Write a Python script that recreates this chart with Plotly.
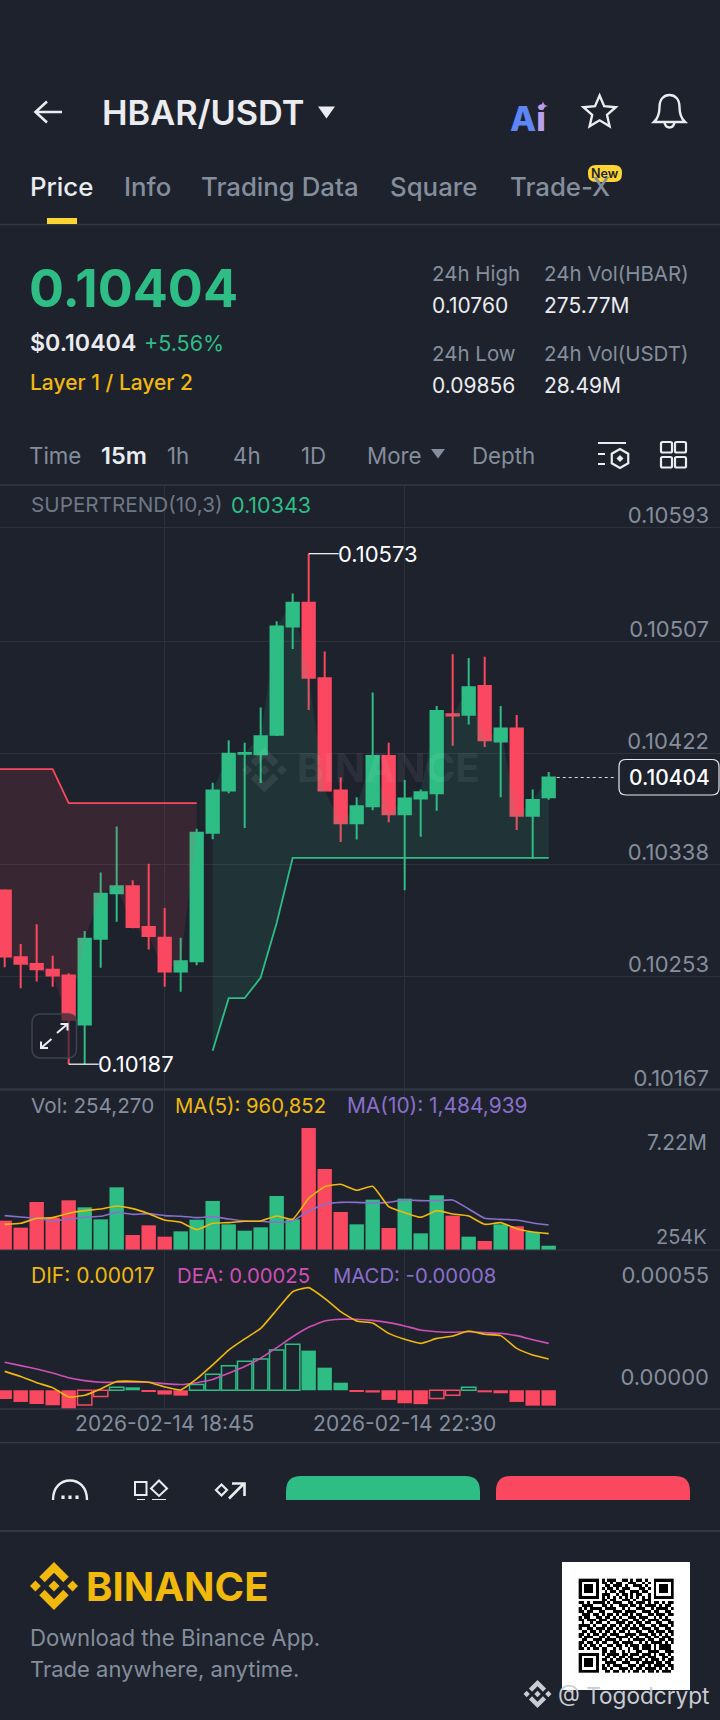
import math

import plotly.graph_objects as go

# 15 minute candles
times = [
    "2026-02-14 16:15", "2026-02-14 16:30", "2026-02-14 16:45", "2026-02-14 17:00", "2026-02-14 17:15",
    "2026-02-14 17:30", "2026-02-14 17:45", "2026-02-14 18:00", "2026-02-14 18:15", "2026-02-14 18:30",
    "2026-02-14 18:45", "2026-02-14 19:00", "2026-02-14 19:15", "2026-02-14 19:30", "2026-02-14 19:45",
    "2026-02-14 20:00", "2026-02-14 20:15", "2026-02-14 20:30", "2026-02-14 20:45", "2026-02-14 21:00",
    "2026-02-14 21:15", "2026-02-14 21:30", "2026-02-14 21:45", "2026-02-14 22:00", "2026-02-14 22:15",
    "2026-02-14 22:30", "2026-02-14 22:45", "2026-02-14 23:00", "2026-02-14 23:15", "2026-02-14 23:30",
    "2026-02-14 23:45", "2026-02-15 00:00", "2026-02-15 00:15", "2026-02-15 00:30", "2026-02-15 00:45",
]
opens = [
    0.103181, 0.102675, 0.102624, 0.102582, 0.102537, 0.102166, 0.102815, 0.103160, 0.103214, 0.102905,
    0.102824, 0.102567, 0.102645, 0.103618, 0.103938, 0.104217, 0.104214, 0.104361, 0.105181, 0.105361,
    0.104789, 0.103938, 0.103690, 0.103819, 0.104199, 0.103759, 0.103878, 0.103917, 0.104516, 0.104513,
    0.104729, 0.104310, 0.104408, 0.103747, 0.103887,
]
highs = [
    0.103190, 0.102776, 0.102926, 0.102687, 0.102555, 0.102875, 0.103318, 0.103666, 0.103259, 0.103384,
    0.103049, 0.102824, 0.103648, 0.103998, 0.104319, 0.104301, 0.104567, 0.105220, 0.105430, 0.105732,
    0.104992, 0.104037, 0.103887, 0.104681, 0.104301, 0.104019, 0.103947, 0.104579, 0.104971, 0.104942,
    0.104951, 0.104579, 0.104510, 0.103947, 0.104079,
]
lows = [
    0.102600, 0.102441, 0.102492, 0.102453, 0.101866, 0.101866, 0.102597, 0.102944, 0.102896, 0.102735,
    0.102453, 0.102414, 0.102615, 0.103570, 0.103917, 0.103654, 0.103995, 0.104352, 0.105010, 0.104549,
    0.103938, 0.103549, 0.103567, 0.103789, 0.103699, 0.103184, 0.103588, 0.103786, 0.104277, 0.104438,
    0.104268, 0.103887, 0.103639, 0.103420, 0.103869,
]
closes = [
    0.102681, 0.102627, 0.102585, 0.102537, 0.102202, 0.102815, 0.103157, 0.103214, 0.102905, 0.102836,
    0.102567, 0.102645, 0.103618, 0.103938, 0.104217, 0.104223, 0.104349, 0.105181, 0.105361, 0.104792,
    0.103938, 0.103690, 0.103819, 0.104199, 0.103759, 0.103878, 0.103926, 0.104540, 0.104507, 0.104720,
    0.104319, 0.104408, 0.103747, 0.103866, 0.104037,
]
# the red band starts one candle left of the visible window
red_band_times = ["2026-02-14 16:00"] + times[:13]
red_band = [
    0.104100, 0.104100, 0.104100, 0.104100, 0.104100, 0.103843, 0.103843,
    0.103843, 0.103843, 0.103843, 0.103843, 0.103843, 0.103843, 0.103843,
]
red_band_edge = [0.103181] + closes[:13]
green_band = [
    0.101968, 0.102366, 0.102366, 0.102522, 0.102935, 0.103429, 0.103429, 0.103429, 0.103429, 0.103429, 0.103429,
    0.103429, 0.103429, 0.103429, 0.103429, 0.103429, 0.103429, 0.103429, 0.103429, 0.103429, 0.103429, 0.103429,
]

# volume in millions
volume = [
    1.736, 1.322, 2.841, 1.914, 2.940, 2.525, 1.815, 3.709, 0.888, 1.460, 0.789, 1.105, 1.795, 2.900, 1.519,
    1.144, 1.342, 3.196, 1.815, 7.220, 4.794, 2.249, 1.519, 2.979, 1.302, 3.038, 0.987, 3.236, 2.032, 0.789,
    0.533, 1.519, 1.401, 1.065, 0.254,
]
vol_ma5 = [
    1.519, 1.578, 1.874, 1.914, 2.170, 2.328, 2.427, 2.604, 2.447, 2.151, 1.776, 1.638, 1.204, 1.578, 1.618,
    1.697, 1.717, 2.012, 1.815, 3.058, 3.749, 3.887, 3.532, 3.768, 2.565, 2.210, 1.934, 2.328, 2.131, 2.012,
    1.519, 1.618, 1.263, 1.065, 0.967,
]
vol_ma10 = [
    2.032, 1.953, 1.874, 1.717, 1.815, 1.934, 1.993, 2.229, 2.111, 2.151, 2.032, 1.993, 1.914, 1.973, 1.835,
    1.717, 1.697, 1.638, 1.717, 2.308, 2.703, 2.821, 2.821, 2.782, 2.821, 2.960, 2.920, 2.920, 2.960, 2.427,
    1.874, 1.815, 1.776, 1.598, 1.480,
]

dif = [
    0.000102, 0.000074, 0.000041, 0.000014, -0.000036, -0.000027, 0.000007, 0.000047, 0.000049, 0.000043,
    0.000018, 0.000002, 0.000061, 0.000137, 0.000217, 0.000277, 0.000334, 0.000433, 0.000532, 0.000554,
    0.000496, 0.000424, 0.000374, 0.000363, 0.000307, 0.000275, 0.000253, 0.000280, 0.000293, 0.000320,
    0.000302, 0.000295, 0.000226, 0.000191, 0.000169,
]
dea = [
    0.000151, 0.000133, 0.000115, 0.000093, 0.000068, 0.000052, 0.000043, 0.000043, 0.000045, 0.000043,
    0.000036, 0.000031, 0.000041, 0.000058, 0.000092, 0.000128, 0.000173, 0.000230, 0.000289, 0.000340,
    0.000374, 0.000383, 0.000383, 0.000377, 0.000365, 0.000347, 0.000325, 0.000316, 0.000313, 0.000316,
    0.000311, 0.000307, 0.000295, 0.000273, 0.000253,
]
macd = [
    -0.000047, -0.000063, -0.000074, -0.000081, -0.000104, -0.000079, -0.000034, 0.000016, 0.000016, -0.000009,
    -0.000023, -0.000029, 0.000031, 0.000086, 0.000133, 0.000156, 0.000169, 0.000217, 0.000248, 0.000214,
    0.000122, 0.000041, -0.000009, -0.000012, -0.000052, -0.000070, -0.000075, -0.000045, -0.000027, 0.000016,
    -0.000011, -0.000016, -0.000063, -0.000083, -0.000083,
]

time_ticks = ["2026-02-14 18:45", "2026-02-14 22:30"]
price_ticks = [0.10593, 0.10507, 0.10422, 0.10338, 0.10253, 0.10167]
price_tick_labels = ["0.10593", "0.10507", "0.10422", "0.10338", "0.10253", "0.10167"]
macd_ticks = [0.00055, 0.0]
macd_tick_labels = ["0.00055", "0.00000"]
last_price = closes[-1]

qr_rows = [
    "111111101011100110101101001111111",
    "100000101101011001110010101000001",
    "101110100110111010011101001011101",
    "101110101011010111000110101011101",
    "101110100101101100111011001011101",
    "100000101110010110101100101000001",
    "111111101010101010101010101111111",
    "000000001101100111010011100000000",
    "110101111010111001101110101101011",
    "011110001101001110110101111010110",
    "101011110111100101001110010111101",
    "110110011000111011110011101100110",
    "011101101011010110101100110111011",
    "101100110110101001110111001010100",
    "110111011101110110011010111101110",
    "010010110010011101101101100110011",
    "111101001101101011010110011011101",
    "100110111011010110111011101100110",
    "011011010110101101001100110111011",
    "110101101101110011110111011010101",
    "101110011010011110101001101101110",
    "011001110111101001011110110011011",
    "110110101100110111100101011110101",
    "101011010011011010111011101011110",
    "110101101100101001011011101011110",
    "000000001101100101001100111100111",
    "111111101011110110111011101011010",
    "100000100110101101100110111001101",
    "101110101101011010111101011101011",
    "101110100111100111001011110110110",
    "101110101010111001110110101111011",
    "100000101101001110101101111010101",
    "111111100110110101011010110101110",
]

BG = "#1E222D"
GREEN = "#2EBD85"
RED = "#FA4860"
GRID = "#2C313C"
GREY = "#848E9C"
WHITE = "#EAECEF"
YELLOW = "#F0B90B"
PURPLE = "#8A6FCB"
PINK = "#CF4FB4"
FONT = "Inter"
W, H = 720, 1720


def dom(top, bottom):
    # pixel rows to a paper domain
    return [1 - bottom / H, 1 - top / H]


fig = go.Figure()

# price panel
fig.add_trace(go.Candlestick(
    x=times, open=opens, high=highs, low=lows, close=closes,
    increasing=dict(line=dict(color=GREEN, width=2), fillcolor=GREEN),
    decreasing=dict(line=dict(color=RED, width=2), fillcolor=RED),
    whiskerwidth=0, hoverinfo="skip", xaxis="x", yaxis="y",
))
fig.add_trace(go.Scatter(x=red_band_times, y=red_band_edge, mode="lines", line=dict(width=0),
                         hoverinfo="skip", xaxis="x", yaxis="y"))
fig.add_trace(go.Scatter(x=red_band_times, y=red_band, mode="lines", line=dict(color=RED, width=1.8),
                         fill="tonexty", fillcolor="rgba(250,72,96,0.12)", hoverinfo="skip",
                         xaxis="x", yaxis="y"))
fig.add_trace(go.Scatter(x=times[13:], y=closes[13:], mode="lines", line=dict(width=0),
                         hoverinfo="skip", xaxis="x", yaxis="y"))
fig.add_trace(go.Scatter(x=times[13:], y=green_band, mode="lines", line=dict(color=GREEN, width=1.8),
                         fill="tonexty", fillcolor="rgba(46,189,133,0.12)", hoverinfo="skip",
                         xaxis="x", yaxis="y"))

# volume panel
vol_colors = [GREEN if c >= o else RED for o, c in zip(opens, closes)]
fig.add_trace(go.Bar(x=times, y=volume, marker=dict(color=vol_colors, line=dict(width=0)),
                     hoverinfo="skip", xaxis="x2", yaxis="y2"))
fig.add_trace(go.Scatter(x=times, y=vol_ma10, mode="lines", line=dict(color=PURPLE, width=1.6, shape="spline", smoothing=0.4),
                         hoverinfo="skip", xaxis="x2", yaxis="y2"))
fig.add_trace(go.Scatter(x=times, y=vol_ma5, mode="lines", line=dict(color=YELLOW, width=1.6, shape="spline", smoothing=0.4),
                         hoverinfo="skip", xaxis="x2", yaxis="y2"))

# macd panel, bars are hollow while the histogram rises
macd_line = [GREEN if v >= 0 else RED for v in macd]
rising = [False] + [macd[i] > macd[i - 1] for i in range(1, len(macd))]
macd_fill = ["rgba(0,0,0,0)" if r else c for r, c in zip(rising, macd_line)]
macd_width = [1.5 if r else 0 for r in rising]
fig.add_trace(go.Bar(x=times, y=macd,
                     marker=dict(color=macd_fill, line=dict(color=macd_line, width=macd_width)),
                     hoverinfo="skip", xaxis="x3", yaxis="y3"))
fig.add_trace(go.Scatter(x=times, y=dea, mode="lines", line=dict(color=PINK, width=1.6, shape="spline", smoothing=0.4),
                         hoverinfo="skip", xaxis="x3", yaxis="y3"))
fig.add_trace(go.Scatter(x=times, y=dif, mode="lines", line=dict(color=YELLOW, width=1.6, shape="spline", smoothing=0.4),
                         hoverinfo="skip", xaxis="x3", yaxis="y3"))

# QR code on the full page pixel axes
fig.add_trace(go.Heatmap(
    z=[[int(ch) for ch in row.ljust(33, "0")[:33]] for row in qr_rows],
    x0=580.1, dx=2.88, y0=1580.1, dy=2.86, zmin=0, zmax=1,
    colorscale=[[0, "#FFFFFF"], [1, "#000000"]], showscale=False, hoverinfo="skip",
    xaxis="x4", yaxis="y4",
))

shapes = []
notes = []


def stroke(path, color=WHITE, width=2, fill=None, layer="above"):
    shapes.append(dict(type="path", path=path, xref="x4", yref="y4", layer=layer,
                       line=dict(color=color, width=width), fillcolor=fill or "rgba(0,0,0,0)"))


def solid(path, color):
    shapes.append(dict(type="path", path=path, xref="x4", yref="y4",
                       line=dict(width=0), fillcolor=color))


def text(x, y, label, size, color=GREY, weight=400, anchor="left", family=FONT):
    # left set texts come out a little right of their anchor
    if anchor == "left":
        x -= 1.8
    notes.append(dict(x=x, y=y, xref="x4", yref="y4", text=label, showarrow=False, xanchor=anchor,
                      yanchor="middle", align=anchor, borderpad=0,
                      font=dict(family=family, size=size, color=color, weight=weight)))


def rrect(x0, y0, x1, y1, r):
    return (f"M{x0+r} {y0} L{x1-r} {y0} Q{x1} {y0} {x1} {y0+r} L{x1} {y1-r} Q{x1} {y1} {x1-r} {y1} "
            f"L{x0+r} {y1} Q{x0} {y1} {x0} {y1-r} L{x0} {y0+r} Q{x0} {y0} {x0+r} {y0} Z")


def poly(points):
    return "M" + " L".join(f"{x:.2f} {y:.2f}" for x, y in points) + " Z"


def logo(cx, cy, size, color):
    # Binance mark out of five polygons
    k = size / 126.61
    top = [(38.73, 53.2), (63.3, 28.63), (87.9, 53.22), (102.2, 38.92), (63.3, 0), (24.43, 38.9)]
    left = [(0, 63.31), (14.3, 49.01), (28.6, 63.31), (14.3, 77.61)]
    mid = [(63.31, 48.98), (77.82, 63.31), (63.31, 77.64), (48.82, 63.31)]
    for pts in (top, left, mid):
        solid(poly([(cx + (x - 63.3) * k, cy + (y - 63.3) * k) for x, y in pts]), color)
    for pts in (top, left):
        solid(poly([(cx - (x - 63.3) * k, cy - (y - 63.3) * k) for x, y in pts]), color)


# white QR background sits under every trace
shapes.append(dict(type="rect", xref="x4", yref="y4", x0=562, x1=690, y0=1562, y1=1690,
                   layer="below", fillcolor="#FFFFFF", line=dict(width=0)))

# separators
for y, w in [(224.5, 1.5), (485, 1.5), (1089, 1.5), (1250, 1.2), (1409, 1.5), (1442.5, 1.5), (1531, 2)]:
    shapes.append(dict(type="line", xref="x4", yref="y4", x0=0, x1=W, y0=y, y1=y,
                       line=dict(color="#333946", width=w)))

# header
stroke("M62 112 L36 112 M47 101.5 L35.5 112 L47 122.5", width=2.6)
text(103, 112, "HBAR/USDT", 34.3, WHITE, 600)
solid("M318 106.5 L335 106.5 L326.5 118.5 Z", WHITE)
text(511, 118, '<span style="color:#5F86F5">A</span><span style="color:#B9A0EA">i</span>', 34, "#5F86F5", 800)
solid("M543 101 Q543.5 105.5 548 106 Q543.5 106.5 543 111 Q542.5 106.5 538 106 Q542.5 105.5 543 101 Z", "#C88FDD")
star = []
for i in range(10):
    a = -math.pi / 2 + i * math.pi / 5
    r = 17 if i % 2 == 0 else 7.8
    star.append((599.6 + r * math.cos(a), 112.5 + r * math.sin(a)))
stroke(poly(star), width=2.4)
stroke("M654 122 Q659.5 117 659.5 107 C659.5 99 664 95 669.5 95 C675 95 679.5 99 679.5 107 Q679.5 117 685 122 Z", width=2.4)
stroke("M664.5 122.5 Q665.5 127.5 669.5 127.5 Q673.5 127.5 674.5 122.5", width=2.4)

# tabs
text(30.5, 186, "Price", 25.8, WHITE, 500)
for x, label in [(125, "Info"), (202, "Trading Data"), (391, "Square"), (511, "Trade-X")]:
    text(x, 186, label, 25.8, GREY, 500)
solid(rrect(588, 165, 622, 182, 8), "#FCD535")
text(605, 173.5, "New", 12.5, "#1E2329", 600, "center")
solid("M47 218 L77 218 L77 224 L47 224 Z", "#FCD535")

# ticker block
text(30, 288, f"{last_price:.5f}", 52, GREEN, 700)
text(30.5, 343, f"${last_price:.5f}", 23.2, WHITE, 600)
text(144.5, 343, "+5.56%", 21.5, GREEN, 400)
text(30.5, 382, "Layer 1 / Layer 2", 21, YELLOW, 500)
text(433, 273, "24h High", 20.5)
text(545, 273, "24h Vol(HBAR)", 20.5)
text(433, 305, "0.10760", 21, WHITE)
text(545, 305, "275.77M", 21, WHITE)
text(433, 353, "24h Low", 20.5)
text(545, 353, "24h Vol(USDT)", 20.5)
text(433, 385, "0.09856", 21, WHITE)
text(545, 385, "28.49M", 21, WHITE)

# interval row
for x, label in [(30, "Time"), (168, "1h"), (234, "4h"), (302, "1D"), (368, "More"), (473, "Depth")]:
    text(x, 455, label, 22.3, GREY)
text(101.5, 455, "15m", 23.5, WHITE, 600)
solid("M431 449 L445 449 L438 458.5 Z", GREY)
stroke("M598 443 L626 443 M598 454 L605 454 M598 464 L605 464", width=2.2)
hexagon = [(620 + 9.5 * math.cos(math.pi / 6 + i * math.pi / 3), 458.5 + 9.5 * math.sin(math.pi / 6 + i * math.pi / 3)) for i in range(6)]
stroke(poly(hexagon), width=2.2)
solid(poly([(620, 455), (623.5, 458.5), (620, 462), (616.5, 458.5)]), WHITE)
for x0, x1 in [(661, 672), (675, 686)]:
    for y0, y1 in [(442, 452.5), (457, 467.5)]:
        stroke(rrect(x0, y0, x1, y1, 1.5), width=2.2)

# indicator headers
text(32, 504.5, "SUPERTREND(10,3)", 20.7, "#6F7785")
text(232, 504.5, "0.10343", 21.5, GREEN)
text(32, 1105, "Vol: 254,270", 20.7)
text(176, 1105, "MA(5): 960,852", 20.3, YELLOW)
text(348, 1105, "MA(10): 1,484,939", 20.9, PURPLE)
text(32, 1275, "DIF: 0.00017", 21, YELLOW)
text(178, 1275, "DEA: 0.00025", 20.3, PINK)
text(334, 1275, "MACD: -0.00008", 20.3, PURPLE)

# chart watermark
logo(264.5, 770, 45, "rgba(255,255,255,0.08)")
text(298, 767, "BINANCE", 40, "rgba(255,255,255,0.08)", 700)

# high and low markers
hi = highs.index(max(highs))
lo = lows.index(min(lows))
for i, value in [(hi, max(highs)), (lo, min(lows))]:
    shapes.append(dict(type="line", xref="x", yref="y", xsizemode="pixel", xanchor=times[i],
                       x0=0, x1=30, y0=value, y1=value, line=dict(color="#FFFFFF", width=1.2)))
    notes.append(dict(x=times[i], y=value, xref="x", yref="y", text=f"{value:.5f}", showarrow=False,
                      xanchor="left", yanchor="middle", xshift=27,
                      font=dict(family=FONT, size=22, color="#FFFFFF")))

# last price tag
shapes.append(dict(type="line", xref="x", yref="y", xsizemode="pixel", xanchor=times[-1],
                   x0=8, x1=68, y0=last_price, y1=last_price,
                   line=dict(color="#D5D8DC", width=1.2, dash="3px,3px")))
stroke(rrect(619, 759.5, 719, 795, 7), "#E6E8EB", 1.2, BG)
text(669, 777, f"{last_price:.5f}", 21, "#FFFFFF", 500, "center")

# expand button
stroke(rrect(32, 1014, 76.5, 1058, 9), "#3D4350", 1.5, "rgba(30,34,45,0.65)")
stroke("M41 1048 L51.5 1039 M41 1041.5 L41 1048 L48 1048 M57 1033 L67.5 1024 M60.5 1024 L67.5 1024 L67.5 1030.5", width=2)

# volume axis labels
for value, label, shift, size in [(7.22, "7.22M", -15, 21), (0.254, "254K", 8.5, 20)]:
    notes.append(dict(x=709, y=value, xref="x4", yref="y2", text=label, showarrow=False, xanchor="right",
                      yanchor="middle", yshift=shift, font=dict(family=FONT, size=size, color=GREY)))

# action bar, cut off at the crop edge
stroke("M53 1500 C53 1487 61 1480.5 70 1480.5 C79 1480.5 87 1487 87 1500", width=2.4)
for x in (63, 70, 77):
    solid(poly([(x - 1.6, 1495.5), (x + 1.6, 1495.5), (x + 1.6, 1499), (x - 1.6, 1499)]), WHITE)
stroke("M135 1482 L146.5 1482 L146.5 1495 L135 1495 Z", width=2)
stroke(poly([(159, 1480.5), (167, 1488.5), (159, 1496), (151, 1488.5)]), width=2)
stroke("M137 1499.5 L145 1499.5 M152 1499.5 L166 1499.5", width=1.2)
stroke(poly([(221.5, 1484.5), (227, 1490), (221.5, 1495.5), (216, 1490)]), width=2.2)
stroke("M229 1498.5 L244 1483.5 M232 1483.5 L244.5 1483.5 L244.5 1496", width=2.6)
solid("M286 1500 L286 1491 Q286 1476 301 1476 L465 1476 Q480 1476 480 1491 L480 1500 Z", GREEN)
solid("M496 1500 L496 1491 Q496 1476 511 1476 L675 1476 Q690 1476 690 1491 L690 1500 Z", RED)

# footer
logo(54, 1586, 48, YELLOW)
text(87, 1586, "BINANCE", 40, YELLOW, 700)
text(30.5, 1637, "Download the Binance App.", 22.2)
text(30.5, 1669, "Trade anywhere, anytime.", 22)
logo(537.5, 1694, 28, "#C9CCD1")
text(558.5, 1695, "@ Togodcrypt", 22.6, "#C9CCD1")

common_x = dict(
    range=["2026-02-14 16:10:37", "2026-02-15 03:25:36"], type="date", tickvals=time_ticks,
    showgrid=True, gridcolor=GRID, gridwidth=1, zeroline=False, showline=False, ticks="",
    rangeslider=dict(visible=False), fixedrange=True,
)
fig.update_layout(
    width=W, height=H, margin=dict(l=0, r=0, t=0, b=0, autoexpand=False), autosize=False,
    paper_bgcolor=BG, plot_bgcolor="rgba(0,0,0,0)", showlegend=False, bargap=0.1, boxgap=0.23, boxgroupgap=0,
    shapes=shapes, annotations=notes, hovermode=False,
    xaxis=dict(domain=[0, 1], anchor="y", showticklabels=False, **common_x),
    xaxis2=dict(domain=[0, 1], anchor="y2", showticklabels=False, **common_x),
    xaxis3=dict(domain=[0, 1], anchor="y3", showticklabels=True, tickformat="%Y-%m-%d %H:%M",
                tickfont=dict(family=FONT, size=21, color=GREY), **common_x),
    xaxis4=dict(domain=[0, 1], anchor="y4", range=[0, W], visible=False, fixedrange=True),
    # a little extra room under the lowest tick so its label is kept
    yaxis=dict(domain=dom(485, 1098), anchor="x", side="right", range=[0.10161, 0.106252], tickvals=price_ticks,
               ticktext=price_tick_labels, showgrid=True, gridcolor=GRID, zeroline=False, ticks="",
               ticklabelposition="inside", ticklabelshift=-12, ticklabelstandoff=8,
               tickfont=dict(family=FONT, size=22, color=GREY), fixedrange=True),
    yaxis2=dict(domain=dom(1089, 1250), anchor="x2", side="right", range=[0, 9.527], showgrid=False,
                zeroline=False, showticklabels=False, ticks="", fixedrange=True),
    yaxis3=dict(domain=dom(1250, 1409), anchor="x3", side="right", range=[-0.000101, 0.000757], tickvals=macd_ticks,
                ticktext=macd_tick_labels, showgrid=False, zeroline=False, ticks="",
                ticklabelposition="inside", ticklabelshift=-13, ticklabelstandoff=8,
                tickfont=dict(family=FONT, size=22, color=GREY), fixedrange=True),
    yaxis4=dict(domain=[0, 1], anchor="x4", range=[H, 0], visible=False, fixedrange=True),
)

# browser default margin would push the page off the window
fig.write_html("out.html", config=dict(displayModeBar=False),
               post_script="document.body.style.margin='0';document.documentElement.style.overflow='hidden';")
